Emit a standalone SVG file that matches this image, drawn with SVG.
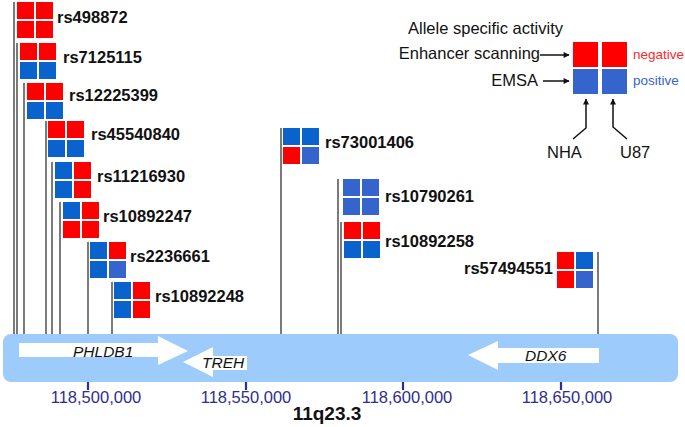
<svg xmlns="http://www.w3.org/2000/svg" width="685" height="427" viewBox="0 0 685 427">
<defs>
<style>
.r{fill:#ff0000}
.b{fill:#0a62cc}
.c{fill:#3464cc}
.stem{stroke:#333;stroke-width:1.3;fill:none}
.lbl{font-family:"Liberation Sans",Arial,sans-serif;font-weight:bold;font-size:16.5px;fill:#111}
.txt{font-family:"Liberation Sans",Arial,sans-serif;font-size:16.5px;fill:#111}
.gene{font-family:"Liberation Sans",Arial,sans-serif;font-style:italic;font-size:15.5px;fill:#111}
.pos{font-family:"Liberation Sans",Arial,sans-serif;font-size:16.5px;fill:#2e2e8e;text-anchor:middle}
.tick{stroke:#2e2e8e;stroke-width:2.2}
.arr{stroke:#111;stroke-width:1.5;fill:none;marker-end:url(#ah)}
</style>
<marker id="ah" viewBox="0 0 10 10" refX="9" refY="5" markerWidth="9" markerHeight="6" markerUnits="userSpaceOnUse" orient="auto">
<path d="M0,0 L10,5 L0,10 z" fill="#111"/>
</marker>
</defs>
<rect width="685" height="427" fill="#ffffff"/>

<g id="chromosome">
<rect x="3" y="334" width="675" height="48" rx="8" fill="#9ccbfc"/>
<g id="ticks">
<line class="tick" x1="88" y1="382" x2="88" y2="390"/>
<line class="tick" x1="246" y1="382" x2="246" y2="390"/>
<line class="tick" x1="403" y1="382" x2="403" y2="390"/>
<line class="tick" x1="561" y1="382" x2="561" y2="390"/>
</g>
<text class="pos" x="96" y="403">118,500,000</text>
<text class="pos" x="246" y="403">118,550,000</text>
<text class="pos" x="407" y="403">118,600,000</text>
<text class="pos" x="567" y="403">118,650,000</text>
<text x="327" y="420" font-family="Liberation Sans,Arial,sans-serif" font-weight="bold" font-size="19" text-anchor="middle" fill="#111">11q23.3</text>
</g>

<g id="gene-PHLDB1">
<polygon points="19,343 158,343 158,336 188,351 158,365 158,357 19,357" fill="#fff"/>
<text class="gene" x="73" y="357">PHLDB1</text>
</g>
<g id="gene-TREH">
<polygon points="183,362 213,347 213,356 247,356 247,370 213,370 213,377" fill="#fff"/>
<text class="gene" x="202" y="368">TREH</text>
</g>
<g id="gene-DDX6">
<polygon points="468,355 498,341 498,348 599,348 599,363 498,363 498,370" fill="#fff"/>
<text class="gene" x="525" y="361" font-size="16">DDX6</text>
</g>

<g id="connectors">
<line class="stem" x1="14" y1="2" x2="14" y2="334"/>
<line class="stem" x1="17" y1="43" x2="17" y2="334"/>
<line class="stem" x1="24" y1="83" x2="24" y2="334"/>
<line class="stem" x1="46" y1="121" x2="46" y2="334"/>
<line class="stem" x1="52" y1="162" x2="52" y2="334"/>
<line class="stem" x1="60" y1="202" x2="60" y2="334"/>
<line class="stem" x1="88" y1="242" x2="88" y2="334"/>
<line class="stem" x1="112" y1="282" x2="112" y2="334"/>
<line class="stem" x1="281" y1="128" x2="281" y2="334"/>
<line class="stem" x1="338" y1="179" x2="338" y2="334"/>
<line class="stem" x1="341" y1="222" x2="341" y2="334"/>
<line class="stem" x1="598" y1="252" x2="598" y2="334"/>
</g>

<g id="rs498872" transform="translate(17,2)">
<rect class="r" width="17" height="17"/><rect class="r" x="19" width="17" height="17"/>
<rect class="r" y="19" width="17" height="17"/><rect class="r" x="19" y="19" width="17" height="17"/>
<text class="lbl" x="40" y="21">rs498872</text>
</g>
<g id="rs7125115" transform="translate(20,43)">
<rect class="r" width="17" height="17"/><rect class="r" x="19" width="17" height="17"/>
<rect class="b" y="19" width="17" height="17"/><rect class="b" x="19" y="19" width="17" height="17"/>
<text class="lbl" x="43" y="20">rs7125115</text>
</g>
<g id="rs12225399" transform="translate(27,83)">
<rect class="r" width="17" height="17"/><rect class="r" x="19" width="17" height="17"/>
<rect class="b" y="19" width="17" height="17"/><rect class="b" x="19" y="19" width="17" height="17"/>
<text class="lbl" x="42" y="18">rs12225399</text>
</g>
<g id="rs45540840" transform="translate(48,121)">
<rect class="r" width="17" height="17"/><rect class="r" x="19" width="17" height="17"/>
<rect class="b" y="19" width="17" height="17"/><rect class="b" x="19" y="19" width="17" height="17"/>
<text class="lbl" x="43" y="19">rs45540840</text>
</g>
<g id="rs11216930" transform="translate(55,162)">
<rect class="b" width="17" height="17"/><rect class="r" x="19" width="17" height="17"/>
<rect class="b" y="19" width="17" height="17"/><rect class="r" x="19" y="19" width="17" height="17"/>
<text class="lbl" x="42" y="20">rs11216930</text>
</g>
<g id="rs10892247" transform="translate(63,202)">
<rect class="b" width="17" height="17"/><rect class="r" x="19" width="17" height="17"/>
<rect class="r" y="19" width="17" height="17"/><rect class="r" x="19" y="19" width="17" height="17"/>
<text class="lbl" x="40" y="20">rs10892247</text>
</g>
<g id="rs2236661" transform="translate(90,242)">
<rect class="b" width="17" height="17"/><rect class="r" x="19" width="17" height="17"/>
<rect class="b" y="19" width="17" height="17"/><rect class="c" x="19" y="19" width="17" height="17"/>
<text class="lbl" x="40" y="20">rs2236661</text>
</g>
<g id="rs10892248" transform="translate(114,282)">
<rect class="b" width="17" height="17"/><rect class="r" x="19" width="17" height="17"/>
<rect class="b" y="19" width="17" height="17"/><rect class="r" x="19" y="19" width="17" height="17"/>
<text class="lbl" x="41" y="20">rs10892248</text>
</g>
<g id="rs73001406" transform="translate(283,128)">
<rect class="b" width="17" height="17"/><rect class="b" x="19" width="17" height="17"/>
<rect class="r" y="19" width="17" height="17"/><rect class="c" x="19" y="19" width="17" height="17"/>
<text class="lbl" x="42" y="20">rs73001406</text>
</g>
<g id="rs10790261" transform="translate(343,179)">
<rect class="c" width="17" height="17"/><rect class="c" x="19" width="17" height="17"/>
<rect class="c" y="19" width="17" height="17"/><rect class="c" x="19" y="19" width="17" height="17"/>
<text class="lbl" x="42" y="23">rs10790261</text>
</g>
<g id="rs10892258" transform="translate(344,222)">
<rect class="r" width="17" height="17"/><rect class="r" x="19" width="17" height="17"/>
<rect class="b" y="19" width="17" height="17"/><rect class="b" x="19" y="19" width="17" height="17"/>
<text class="lbl" x="41" y="25">rs10892258</text>
</g>
<g id="rs57494551" transform="translate(557,252)">
<rect class="r" width="17" height="17"/><rect class="b" x="19" width="17" height="17"/>
<rect class="r" y="19" width="17" height="17"/><rect class="c" x="19" y="19" width="17" height="17"/>
<text class="lbl" x="-4" y="22" text-anchor="end">rs57494551</text>
</g>

<g id="legend">
<text class="txt" x="563" y="34" text-anchor="end">Allele specific activity</text>
<text class="txt" x="540" y="59" text-anchor="end">Enhancer scanning</text>
<text class="txt" x="538" y="86" text-anchor="end">EMSA</text>
<line class="arr" x1="540" y1="55" x2="569" y2="55"/>
<line class="arr" x1="543" y1="81" x2="569" y2="81"/>
<rect class="r" x="573" y="42" width="25" height="25"/>
<rect class="r" x="602" y="42" width="25" height="25"/>
<rect class="c" x="573" y="69" width="25" height="25"/>
<rect class="c" x="602" y="69" width="25" height="25"/>
<text x="633" y="59" font-family="Liberation Sans,Arial,sans-serif" font-size="13.5" fill="#ff2a2a">negative</text>
<text x="633" y="85" font-family="Liberation Sans,Arial,sans-serif" font-size="13.5" fill="#3464cc">positive</text>
<path class="arr" d="M573,139 L586,128 L586,99"/>
<path class="arr" d="M627,139 L613,127 L613,99"/>
<text class="txt" x="547" y="158">NHA</text>
<text class="txt" x="620" y="158">U87</text>
</g>
</svg>
